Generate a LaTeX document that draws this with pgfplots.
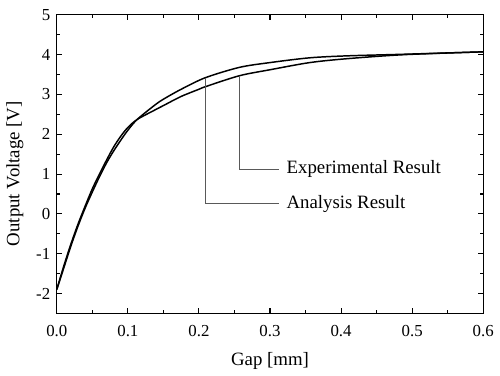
\documentclass[border=0pt]{standalone}
\usepackage{pgfplots}
\pgfplotsset{compat=1.18}
\usepackage{fontspec}
\setmainfont{Liberation Serif}
\begin{document}
\fontsize{14}{16}\selectfont
\begin{tikzpicture}
\begin{axis}[
  name=main,
  scale only axis,
  width=317pt, height=222pt,
  xmin=0, xmax=0.6, ymin=-2.5, ymax=5,
  xtick={0,0.1,...,0.6},
  xticklabels={0.0,0.1,0.2,0.3,0.4,0.5,0.6},
  ytick={-2,-1,0,1,2,3,4,5},
  minor x tick num=1, minor y tick num=1,
  tick align=inside,
  major tick length=4pt, minor tick length=2.5pt,
  tick style={black, line width=0.8pt},
  axis line style={line width=1pt},
  /pgf/number format/assume math mode=true,
  xlabel={Gap [mm]}, ylabel={Output Voltage [V]},
  xticklabel style={yshift=-4pt},
  every axis y label/.style={at={(ticklabel cs:0.468)}, rotate=90, anchor=near ticklabel},
  xlabel style={yshift=-2pt},
  every tick label/.append style={font=\fontsize{12.5}{15}\selectfont},
  label style={font=\fontsize{14}{16}\selectfont},
  clip=false,
]
% Experimental
\addplot[black, line width=1.1pt, smooth] coordinates {
(0,-1.9) (0.01,-1.3) (0.02,-0.75) (0.03,-0.25) (0.04,0.2) (0.05,0.63)
(0.06,1.0) (0.07,1.35) (0.08,1.68) (0.09,1.95) (0.1,2.17) (0.113,2.37)
(0.137,2.6) (0.15,2.72) (0.175,2.95) (0.2,3.13) (0.21,3.2) (0.257,3.47)
(0.3,3.62) (0.356,3.8) (0.41,3.9) (0.49,4.0) (0.6,4.07)};
% Analysis
\addplot[black, line width=1.1pt, smooth] coordinates {
(0,-1.9) (0.01,-1.35) (0.02,-0.8) (0.03,-0.3) (0.04,0.15) (0.05,0.55)
(0.06,0.93) (0.07,1.28) (0.08,1.58) (0.09,1.85) (0.1,2.1) (0.113,2.37)
(0.137,2.72) (0.15,2.88) (0.175,3.13) (0.209,3.42) (0.257,3.68) (0.3,3.8)
(0.356,3.92) (0.41,3.97) (0.49,4.01) (0.6,4.07)};
\draw[black!65, line width=0.7pt] (axis cs:0.257,3.47) |- (axis cs:0.312,1.125);
\draw[black!65, line width=0.7pt] (axis cs:0.209,3.42) |- (axis cs:0.312,0.25);
\node[anchor=west, inner sep=0pt] at (axis cs:0.323,1.125) {Experimental Result};
\node[anchor=west, inner sep=0pt] at (axis cs:0.323,0.25) {Analysis Result};
\end{axis}
\path (main.north west) ++(0,11pt);
\end{tikzpicture}
\end{document}
